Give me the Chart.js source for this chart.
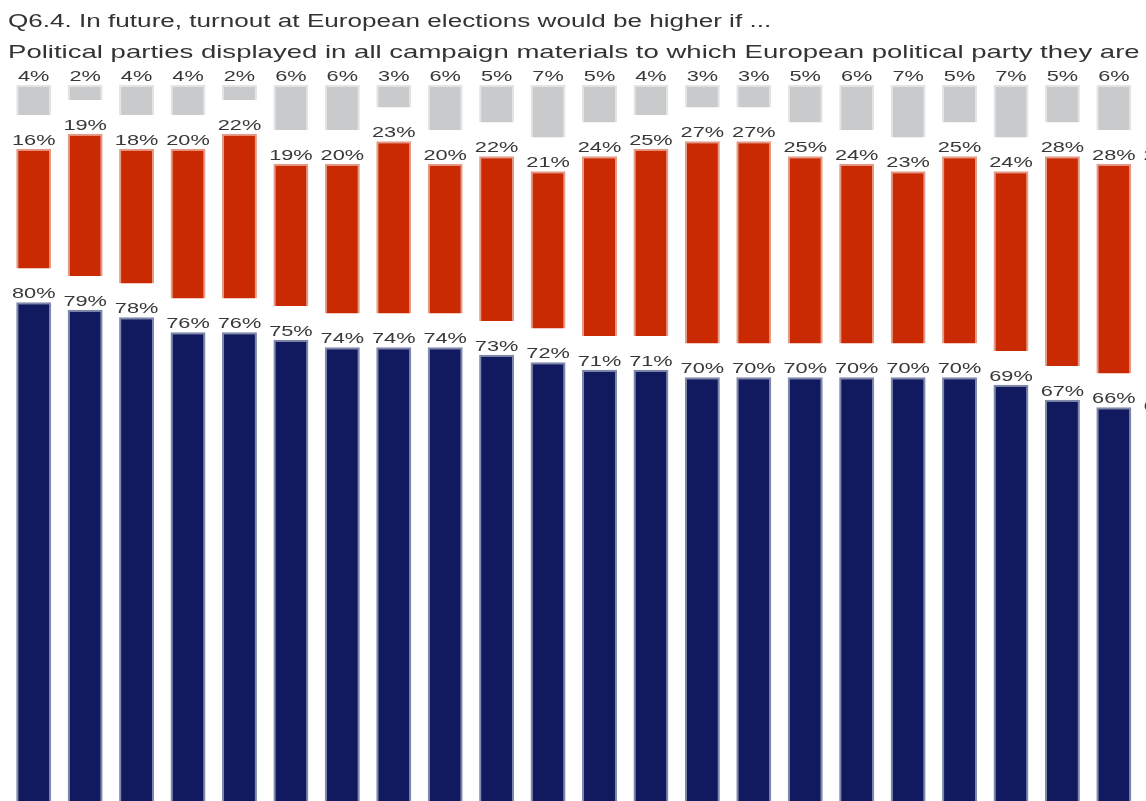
<!DOCTYPE html>
<html>
<head>
<meta charset="utf-8">
<script src="https://cdn.jsdelivr.net/npm/chart.js@4/dist/chart.umd.min.js"></script>
<style>
  html, body { margin: 0; padding: 0; background: #fff; width: 1146px; height: 801px; overflow: hidden; }
  #wrap { position: relative; width: 1146px; height: 801px; overflow: hidden; }
  #c { position: absolute; left: 0; top: 0; }
  .ttl { position: absolute; left: 8px; white-space: nowrap; font-family: "Liberation Sans", Arial, sans-serif;
         color: #333; transform: scaleX(1.45); transform-origin: 0 0; line-height: 1; }
</style>
</head>
<body>
<div id="wrap">
  <canvas id="c" width="1191" height="902"></canvas>
  <div class="ttl" style="top:12px; font-size:18px">Q6.4. In future, turnout at European elections would be higher if ...</div>
  <div class="ttl" style="top:42.4px; font-size:19px">Political parties displayed in all campaign materials to which European political party they are affiliated</div>
</div>
<script>
const categories = ['1','2','3','4','5','6','7','8','9','10','11','12','13','14','15','16','17','18','19','20','21','22','23'];
const higherValues = [80,79,78,76,76,75,74,74,74,73,72,71,71,70,70,70,70,70,70,69,67,66,65];
const notHigherValues = [16,19,18,20,22,19,20,23,20,22,21,24,25,27,27,25,24,23,25,24,28,28,29];
const dkValues = [4,2,4,4,2,6,6,3,6,5,7,5,4,3,3,5,6,7,5,7,5,6,6];
const seriesNames = ['Would be higher', 'Would not be higher', "Don't know"];
const GAP = 4.5;

const blueData = higherValues.map(v => [0, v]);
const redData = higherValues.map((v, i) => [v + GAP, v + GAP + notHigherValues[i]]);
const greyData = higherValues.map((v, i) => {
  const s = v + notHigherValues[i] + 2 * GAP;
  return [s, s + dkValues[i]];
});
const labelSets = [higherValues, notHigherValues, dkValues];

const labelPlugin = {
  id: 'segLabels',
  afterDatasetsDraw(chart) {
    const ctx = chart.ctx;
    chart.data.datasets.forEach((ds, di) => {
      const meta = chart.getDatasetMeta(di);
      meta.data.forEach((el, i) => {
        const top = Math.min(el.y, el.base);
        ctx.save();
        ctx.translate(el.x, top - 4);
        ctx.scale(1.45, 1);
        ctx.font = '15px "Liberation Sans", Arial, sans-serif';
        ctx.fillStyle = '#383838';
        ctx.textAlign = 'center';
        ctx.textBaseline = 'alphabetic';
        ctx.fillText(labelSets[di][i] + '%', 0, 0);
        ctx.restore();
      });
    });
  }
};

new Chart(document.getElementById('c'), {
  type: 'bar',
  data: {
    labels: categories,
    datasets: [
      { label: seriesNames[0], data: blueData, backgroundColor: '#111a5f', borderColor: '#7f88aa', borderWidth: 2, grouped: false },
      { label: seriesNames[1], data: redData, backgroundColor: '#c92a02', borderColor: '#e49c88', borderWidth: 2, grouped: false },
      { label: seriesNames[2], data: greyData, backgroundColor: '#c9cacc', borderColor: '#e4e4e4', borderWidth: 2, grouped: false }
    ]
  },
  options: {
    responsive: false,
    devicePixelRatio: 1,
    animation: false,
    layout: { padding: { left: 8, top: 40, right: 0, bottom: 0 } },
    datasets: { bar: { barPercentage: 0.68, categoryPercentage: 1 } },
    plugins: { legend: { display: false }, tooltip: { enabled: false }, title: { display: false } },
    scales: {
      x: { display: false, stacked: true },
      y: { display: false, min: 0, max: 115 }
    }
  },
  plugins: [labelPlugin]
});
</script>
</body>
</html>
